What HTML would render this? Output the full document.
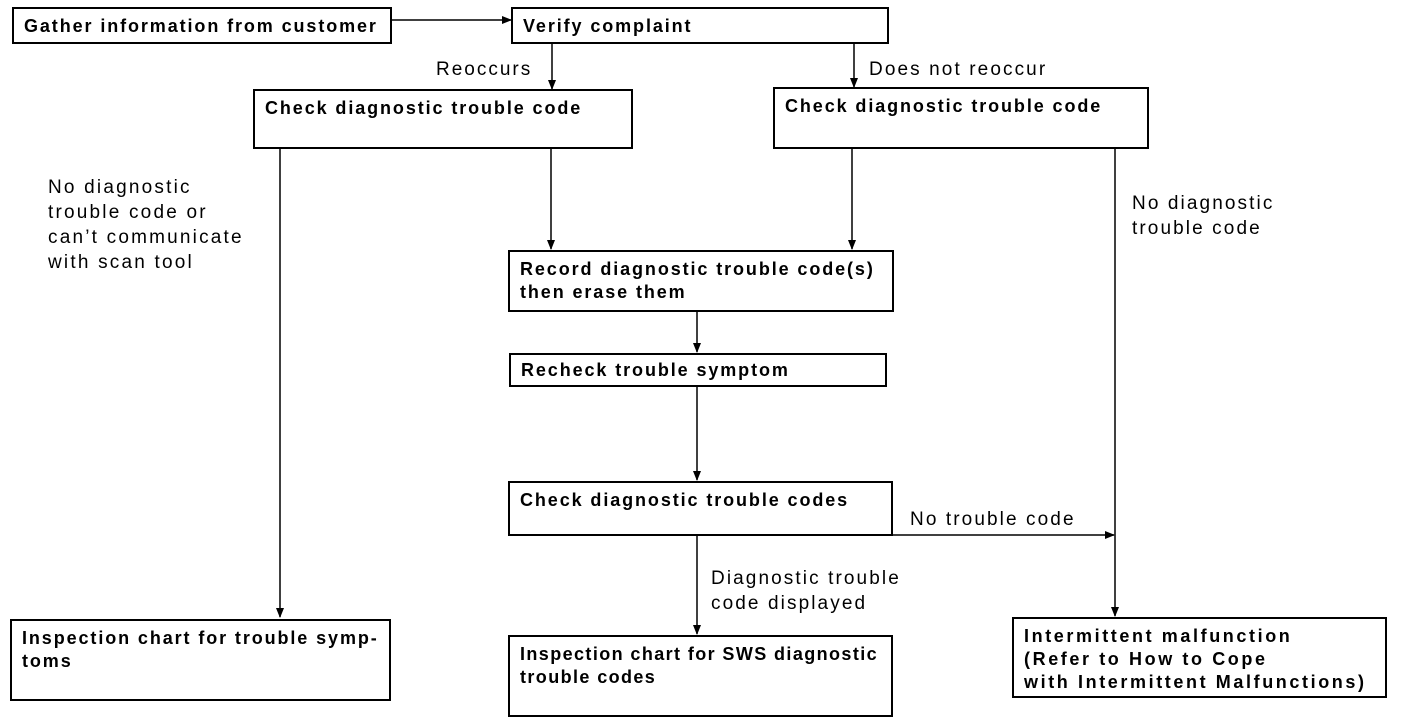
<!DOCTYPE html>
<html><head><meta charset="utf-8"><style>
body{margin:0;background:#fff;width:1408px;height:724px;overflow:hidden;position:relative;font-family:"Liberation Sans",sans-serif;color:#000}
.b{position:absolute;border:2px solid #000;box-sizing:border-box;font-weight:bold;font-size:18px;letter-spacing:1.9px;line-height:23px;padding:6px 0 0 10px;white-space:nowrap}
.t{position:absolute;font-size:19px;line-height:25px;letter-spacing:2.1px;white-space:nowrap}
svg{position:absolute;left:0;top:0}
</style></head><body>
<svg width="1408" height="724"><defs><marker id="a" markerWidth="10" markerHeight="10" refX="9" refY="5" orient="auto" markerUnits="userSpaceOnUse"><path d="M0,1 L10,5 L0,9z"/></marker></defs>
<g stroke="#000" stroke-width="1.5" fill="none" marker-end="url(#a)">
<line x1="391" y1="20" x2="511" y2="20"/>
<line x1="552" y1="43" x2="552" y2="89"/>
<line x1="854" y1="43" x2="854" y2="87"/>
<line x1="280" y1="148" x2="280" y2="617"/>
<line x1="551" y1="148" x2="551" y2="249"/>
<line x1="852" y1="148" x2="852" y2="249"/>
<line x1="1115" y1="148" x2="1115" y2="616"/>
<line x1="893" y1="535" x2="1114" y2="535"/>
<line x1="697" y1="311" x2="697" y2="352"/>
<line x1="697" y1="386" x2="697" y2="480"/>
<line x1="697" y1="535" x2="697" y2="634"/>
</g></svg>
<div class="b" style="left:12px;top:7px;width:380px;height:37px">Gather information from customer</div>
<div class="b" style="left:511px;top:7px;width:378px;height:37px">Verify complaint</div>
<div class="b" style="left:253px;top:89px;width:380px;height:60px">Check diagnostic trouble code</div>
<div class="b" style="left:773px;top:87px;width:376px;height:62px">Check diagnostic trouble code</div>
<div class="b" style="left:508px;top:250px;width:386px;height:62px">Record diagnostic trouble code(s)<br>then erase them</div>
<div class="b" style="left:509px;top:353px;width:378px;height:34px;padding-top:4px">Recheck trouble symptom</div>
<div class="b" style="left:508px;top:481px;width:385px;height:55px">Check diagnostic trouble codes</div>
<div class="b" style="left:10px;top:619px;width:381px;height:82px;letter-spacing:1.9px">Inspection chart for trouble symp-<br>toms</div>
<div class="b" style="left:508px;top:635px;width:385px;height:82px;letter-spacing:1.4px">Inspection chart for SWS diagnostic<br>trouble codes</div>
<div class="b" style="left:1012px;top:617px;width:375px;height:81px;letter-spacing:2.6px">Intermittent malfunction<br>(Refer to How to Cope<br>with Intermittent Malfunctions)</div>
<div class="t" style="left:436px;top:57px;letter-spacing:2px">Reoccurs</div>
<div class="t" style="left:869px;top:57px">Does not reoccur</div>
<div class="t" style="left:48px;top:175px;letter-spacing:2.2px">No diagnostic<br>trouble code or<br>can’t communicate<br>with scan tool</div>
<div class="t" style="left:1132px;top:191px">No diagnostic<br>trouble code</div>
<div class="t" style="left:910px;top:507px">No trouble code</div>
<div class="t" style="left:711px;top:566px">Diagnostic trouble<br>code displayed</div>
</body></html>
